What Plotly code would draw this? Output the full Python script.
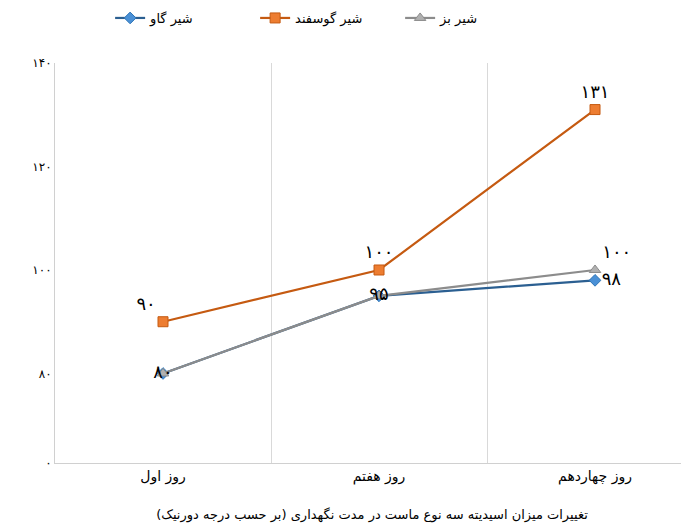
import plotly.graph_objects as go

categories = ["روز اول", "روز هفتم", "روز چهاردهم"]
series_names = ["شیر گاو", "شیر گوسفند", "شیر بز"]
cow = [80, 95, 98]
sheep = [90, 100, 131]
goat = [80, 95, 100]
cow_labels = ["", "", "۹۸"]
sheep_labels = ["۹۰", "۱۰۰", "۱۳۱"]
goat_labels = ["۸۰", "۹۵", "۱۰۰"]
y_tickvals = [62.7, 80, 100, 120, 140]
y_ticktext = ["۰", "۸۰", "۱۰۰", "۱۲۰", "۱۴۰"]
x_title = "تغییرات میزان اسیدیته سه نوع ماست در مدت نگهداری (بر حسب درجه دورنیک)"

x = list(range(len(categories)))
font_main = "DejaVu Sans"
lbl_font = dict(family=font_main, size=18, color="black")

fig = go.Figure()
fig.add_trace(go.Scatter(
    x=x, y=cow, name=series_names[0], mode="lines+markers+text",
    line=dict(color="#2B5F91", width=2.2),
    marker=dict(symbol="diamond", size=9, color="#4A90D6", line=dict(color="#2E75B6", width=1)),
    text=cow_labels, textposition=["middle right", "middle right", "middle right"],
    textfont=lbl_font, cliponaxis=False,
))
fig.add_trace(go.Scatter(
    x=x, y=sheep, name=series_names[1], mode="lines+markers+text",
    line=dict(color="#C55A11", width=2.2),
    marker=dict(symbol="square", size=10, color="#ED7D31", line=dict(color="#C55A11", width=1)),
    text=sheep_labels, textposition=["top left", "top center", "top center"],
    textfont=lbl_font, cliponaxis=False,
))
fig.add_trace(go.Scatter(
    x=x, y=goat, name=series_names[2], mode="lines+markers+text",
    line=dict(color="#8C8C8C", width=2.2),
    marker=dict(symbol="triangle-up", size=10, color="#B0B0B0", line=dict(color="#8C8C8C", width=1)),
    text=goat_labels, textposition=["middle center", "middle center", "top right"],
    textfont=lbl_font, cliponaxis=False,
))

fig.update_layout(
    width=689, height=530,
    margin=dict(l=47, r=8, t=55, b=75, autoexpand=False),
    paper_bgcolor="white", plot_bgcolor="white",
    font=dict(family=font_main, size=12, color="#333333"),
    showlegend=True,
    legend=dict(orientation="h", x=0.43, xanchor="center", y=1.1125, yanchor="middle",
                font=dict(family=font_main, size=13, color="black"),
                entrywidth=100, entrywidthmode="pixels"),
    xaxis=dict(
        range=[-0.5, 2.435], tickmode="array", tickvals=x, ticktext=categories,
        showgrid=False, zeroline=False, showline=True, linecolor="#D0D0D0", linewidth=1,
        ticks="", tickfont=dict(family=font_main, size=14, color="black"),
        minor=dict(tick0=0.5, dtick=1, showgrid=True, gridcolor="#D9D9D9", gridwidth=1, ticks=""),
        title=dict(text=x_title, font=dict(family=font_main, size=13, color="black"), standoff=26),
        automargin=False,
    ),
    yaxis=dict(
        range=[62.7, 140], tickmode="array", tickvals=y_tickvals, ticktext=y_ticktext,
        showgrid=False, zeroline=False, showline=True, linecolor="#D0D0D0", linewidth=1,
        ticks="", tickfont=dict(family=font_main, size=12, color="black"),
        automargin=False,
    ),
)

fig.write_html("out.html")
